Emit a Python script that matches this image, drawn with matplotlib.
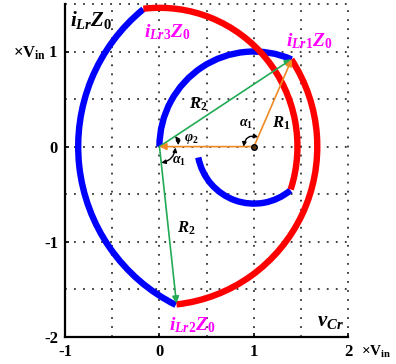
import matplotlib
matplotlib.use('Agg')
import matplotlib.pyplot as plt
from matplotlib.patches import Arc

plt.rcParams['font.family'] = 'Liberation Serif'
plt.rcParams['font.weight'] = 'bold'
plt.rcParams['axes.unicode_minus'] = False
plt.rcParams['mathtext.fontset'] = 'custom'
plt.rcParams['mathtext.rm'] = 'Liberation Serif:bold'
plt.rcParams['mathtext.it'] = 'Liberation Serif:italic:bold'
plt.rcParams['mathtext.bf'] = 'Liberation Serif:bold'

# trajectory arcs: centre, radius, start/end angle (deg)
arc_cx = [1.0, 0.0, 1.0, 0.0, 1.0]
arc_cy = [0.0, 0.0, 0.0, 0.0, 0.0]
arc_r = [1.0, 1.67, 1.86, 1.46, 0.60]
arc_t1 = [66.5, -83.8, 129.0, -18.0, 191.0]
arc_t2 = [180.0, 33.3, 243.6, 96.7, 310.0]
arc_color = ['#0000ff', '#ff0000', '#0000ff', '#ff0000', '#0000ff']

# key points
p_origin = (0.0, 0.0)
p_c1 = (1.0, 0.0)
p_lr1 = (1.40, 0.92)
p_lr2 = (0.18, -1.65)

x_ticks = [-1, 0, 1, 2]
y_ticks = [-2, -1, 0, 1]
y_ticklabels = ['-2', '-1', '0', r'×V$_{\mathrm{in}}$ 1']

green = '#22aa55'
orange = '#f08a24'
magenta = '#ff00ff'

fig = plt.figure(figsize=(3.96, 3.64), dpi=100)
ax = fig.add_axes([0.164, 0.075, 0.716, 0.914])
ax.set_xlim(-1, 2)
ax.set_ylim(-2, 1.5)

# dotted grid, every 0.5
for gx in [-0.5, 0, 0.5, 1, 1.5, 2]:
    ax.axvline(gx, color='#333333', lw=1.3, ls=(0, (1, 4.0)), clip_on=False, zorder=0)
for gy in [-1.5, -1, -0.5, 0, 0.5, 1, 1.5]:
    ax.axhline(gy, color='#333333', lw=1.3, ls=(0, (1, 4.0)), clip_on=False, zorder=0)

# trajectory
for cx, cy, r, t1, t2, c in zip(arc_cx, arc_cy, arc_r, arc_t1, arc_t2, arc_color):
    ax.add_patch(Arc((cx, cy), 2 * r, 2 * r, theta1=t1, theta2=t2,
                     color=c, lw=4.6, zorder=2 if c == '#0000ff' else 3))

# radius arrows
def arrow(start, end, col):
    ax.annotate('', xy=end, xytext=start,
                arrowprops=dict(arrowstyle='-|>', color=col, lw=1.2,
                                mutation_scale=10, shrinkA=0, shrinkB=0),
                zorder=4)

arrow(p_origin, p_lr1, green)
arrow(p_origin, p_lr2, green)
arrow(p_c1, p_lr1, orange)
arrow(p_c1, p_origin, orange)
ax.plot(*p_c1, 'o', ms=4, mfc='#553311', mec='black', zorder=5)

# angle marks
def angle(p1, p2, rad):
    ax.annotate('', xy=p2, xytext=p1,
                arrowprops=dict(arrowstyle='<|-|>', color='black', lw=1.0,
                                mutation_scale=6, shrinkA=0, shrinkB=0,
                                connectionstyle='arc3,rad=%s' % rad),
                zorder=5)

angle((1.044, 0.101), (0.89, 0.0), 0.54)
angle((0.20, 0.015), (0.167, 0.11), 0.15)
angle((0.17, -0.01), (0.02, -0.17), -0.35)

ax.text(0.92, 0.23, r'$\alpha_1$', fontsize=10, ha='center', va='center', zorder=6)
ax.text(1.29, 0.25, r'$R_1$', fontsize=12, ha='center', va='center', zorder=6)
ax.text(0.34, 0.08, r'$\varphi_2$', fontsize=10, ha='center', va='center', zorder=6)
ax.text(0.21, -0.16, r'$\alpha_1$', fontsize=10, ha='center', va='center', zorder=6)
ax.text(0.41, 0.45, r'$R_2$', fontsize=12, ha='center', va='center', zorder=6)
ax.text(0.28, -0.86, r'$R_2$', fontsize=12, ha='center', va='center', zorder=6)

ax.text(-0.95, 1.33, r'$i_{Lr}Z_0$', fontsize=15, va='center', ha='left')
ax.text(0.08, 1.2, r'$i_{Lr3}Z_0$', fontsize=14, color=magenta, ha='center', va='center')
ax.text(1.58, 1.11, r'$i_{Lr1}Z_0$', fontsize=14, color=magenta, ha='center', va='center')
ax.text(0.35, -1.88, r'$i_{Lr2}Z_0$', fontsize=14, color=magenta, ha='center', va='center')
ax.text(1.81, -1.83, r'$v_{Cr}$', fontsize=15, ha='center', va='center')

# axes
for s in ['top', 'right']:
    ax.spines[s].set_visible(False)
for s in ['left', 'bottom']:
    ax.spines[s].set_linewidth(1.6)
ax.set_xticks(x_ticks)
ax.set_yticks(y_ticks)
ax.set_yticklabels(y_ticklabels)
ax.tick_params(direction='in', length=3, width=1.2, labelsize=12, pad=5)
ax.annotate(r'×V$_{\mathrm{in}}$', xy=(2, -2), xytext=(9, -5),
            textcoords='offset points', ha='left', va='top', fontsize=11,
            annotation_clip=False)

fig.savefig('out.png', dpi=100)
